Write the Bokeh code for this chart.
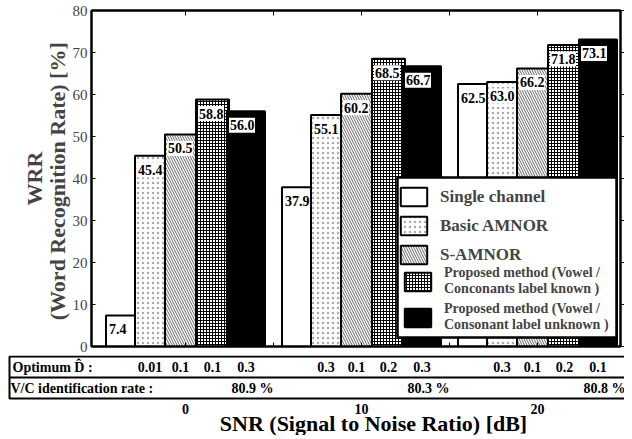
from bokeh.plotting import figure
from bokeh.models import (Range1d, LinearAxis, FixedTicker, Legend, LegendItem, LabelSet,
                          ColumnDataSource, CustomJSTickFormatter)
from bokeh.embed import file_html
from bokeh.resources import INLINE
from bokeh.core.properties import value

# ---------------- data ----------------
snr = [0, 10, 20]
series_labels = ["Single channel", "Basic AMNOR", "S-AMNOR",
                 "Proposed method (Vowel /\nConconants label known )",
                 "Proposed method (Vowel /\nConsonant label unknown )"]
single_channel = [7.4, 37.9, 62.5]
basic_amnor = [45.4, 55.1, 63.0]
s_amnor = [50.5, 60.2, 66.2]
proposed_known = [58.8, 68.5, 71.8]
proposed_unknown = [56.0, 66.7, 73.1]
y_ticks = [0, 10, 20, 30, 40, 50, 60, 70, 80]
x_ticks = [0, 5, 10, 15, 20]
x_tick_labels = ["0", "10", "20"]
d_basic = ["0.01", "0.3", "0.3"]
d_samnor = ["0.1", "0.1", "0.1"]
d_known = ["0.1", "0.2", "0.2"]
d_unknown = ["0.3", "0.3", "0.1"]
vc_rate = ["80.9 %", "80.3 %", "80.8 %"]
row_titles = ["Optimum D\u0302 :", "V/C identification rate :"]
x_title = "SNR (Signal to Noise Ratio) [dB]"
y_title = "WRR\n(Word Recognition Rate)  [%]"

# ---------------- layout ----------------
FONT = "Liberation Serif"
VFONT = value(FONT)
W = 624
H1 = 355
H2 = 435 - H1
ORIGIN_PX = 185          # canvas px of SNR = 0
PX_PER_DB = 17.6
FL, FR, FT, FB = 91, 620, 10, 346


def xd(px):
    return (px - ORIGIN_PX) / PX_PER_DB


Y_PX = (FB - FT) / 80.0


def yd(py):
    return (FB - py) / Y_PX


BAR_EDGES = [(-79.5, -50.5), (-50.5, -20.5), (-20.5, 10.5), (10.5, 43.5), (41.5, 79.5)]
STYLES = [
    dict(fill_color="white"),
    dict(fill_color="white", hatch_pattern="dot", hatch_scale=5, hatch_weight=0.4, hatch_color="#aaaaaa"),
    dict(fill_color="white", hatch_pattern="left_diagonal_line", hatch_scale=5, hatch_weight=0.6, hatch_color="black"),
    dict(fill_color="white", hatch_pattern="cross", hatch_scale=3, hatch_weight=1.0, hatch_color="black"),
    dict(fill_color="black"),
]

p = figure(width=W, height=H1, x_range=Range1d(xd(FL), xd(FR)), y_range=Range1d(0, 80),
           toolbar_location=None, output_backend="svg",
           min_border_left=FL, min_border_right=W - FR, min_border_top=FT, min_border_bottom=H1 - FB)
p.xgrid.visible = False
p.ygrid.visible = False
p.outline_line_color = "black"
p.outline_line_width = 2

series = [single_channel, basic_amnor, s_amnor, proposed_known, proposed_unknown]
renderers = []
sources = []
for vals, (l, r), st in zip(series, BAR_EDGES, STYLES):
    left = [s + l / PX_PER_DB for s in snr]
    src = ColumnDataSource(dict(left=left,
                                right=[s + r / PX_PER_DB for s in snr],
                                top=vals, label=["%.1f" % v for v in vals],
                                box_l=[x + 2 / PX_PER_DB for x in left],
                                box_r=[x + 28 / PX_PER_DB for x in left],
                                box_t=[v - 6.5 / Y_PX for v in vals],
                                box_b=[v - 21.5 / Y_PX for v in vals]))
    rr = p.quad(left="left", right="right", top="top", bottom=0, source=src,
                line_color="black", line_width=2, **st)
    renderers.append(rr)
    sources.append(src)

# white boxes behind the value labels
for src in sources:
    p.quad(left="box_l", right="box_r", top="box_t", bottom="box_b", source=src,
           fill_color="white", line_color=None)

for src in sources:
    p.add_layout(LabelSet(x="left", y="top", text="label", source=src, x_offset=3, y_offset=-14,
                          text_baseline="middle", text_align="left", text_font=VFONT,
                          text_font_style="bold", text_font_size="14px", text_color="black"))

# legend box (white panel with black frame)
p.quad(left=[xd(397)], right=[xd(616)], top=[yd(177)], bottom=[yd(337)],
       fill_color="white", line_color="black", line_width=2.5)

# axes
ya = p.yaxis[0]
ya.ticker = FixedTicker(ticks=y_ticks)
ya.major_tick_in = 4
ya.major_tick_out = 0
ya.minor_tick_line_color = None
ya.axis_line_width = 2
ya.major_label_text_font = FONT
ya.major_label_text_font_size = "15px"
ya.major_label_standoff = 4
ya.axis_label = y_title
ya.axis_label_text_font = FONT
ya.axis_label_text_font_style = "bold"
ya.axis_label_text_font_size = "22px"
ya.axis_label_text_line_height = 0.9
ya.axis_label_standoff = 0

blank = CustomJSTickFormatter(code="return ''")
xa = p.xaxis[0]
xa.ticker = FixedTicker(ticks=x_ticks)
xa.major_tick_in = 4
xa.major_tick_out = 0
xa.minor_tick_line_color = None
xa.axis_line_width = 2
xa.formatter = blank
xa.major_label_text_font_size = "0px"
xa.major_label_standoff = 0

top_axis = LinearAxis(ticker=FixedTicker(ticks=x_ticks), major_tick_in=5, major_tick_out=0,
                      minor_tick_line_color=None, axis_line_width=2, formatter=blank,
                      major_label_text_font_size="0px", major_label_standoff=0)
p.add_layout(top_axis, "above")
right_axis = LinearAxis(ticker=FixedTicker(ticks=y_ticks), major_tick_in=0, major_tick_out=4,
                        minor_tick_line_color=None, axis_line_width=2, formatter=blank,
                        major_label_text_font_size="0px", major_label_standoff=0)
p.add_layout(right_axis, "right")

# legends (transparent, drawn over the white panel)
legA = Legend(items=[LegendItem(label=series_labels[i], renderers=[renderers[i]]) for i in range(3)],
              location=(397 - FL, FB - 266), padding=8, spacing=6, glyph_height=23, glyph_width=33,
              label_standoff=10, margin=0, border_line_color=None, background_fill_alpha=0,
              label_text_font=FONT, label_text_font_style="bold", label_text_font_size="17px")
legB = Legend(items=[LegendItem(label=series_labels[i], renderers=[renderers[i]]) for i in range(3, 5)],
              location=(401 - FL, FB - 333), padding=4, spacing=4, glyph_height=23, glyph_width=33,
              label_standoff=10, margin=0, border_line_color=None, background_fill_alpha=0,
              label_text_font=FONT, label_text_font_style="bold", label_text_font_size="14px",
              label_text_line_height=0.85)
p.add_layout(legA, "center")
p.add_layout(legB, "center")

# ---------------- table + x labels ----------------
p2 = figure(width=W, height=H2, x_range=Range1d(xd(0), xd(W)), y_range=Range1d(0, H2),
            toolbar_location=None, output_backend="svg", min_border=0,
            x_axis_location=None, y_axis_location=None)
p2.xgrid.visible = False
p2.ygrid.visible = False
p2.outline_line_color = None


def y2(py):
    return H2 - (py - H1)


T_TOP, T_MID, T_BOT = y2(356), y2(377), y2(398)
p2.quad(left=[xd(9)], right=[xd(W + 20)], top=[T_TOP], bottom=[T_BOT], fill_color=None,
        line_color="black", line_width=2)
p2.segment(x0=[xd(9)], x1=[xd(W + 20)], y0=[T_MID], y1=[T_MID], line_color="black", line_width=2)

r1 = (T_TOP + T_MID) / 2
r2 = (T_MID + T_BOT) / 2
p2.text(x=[xd(12), xd(10)], y=[r1, r2], text=row_titles, text_baseline="middle", text_align="left",
        text_font=VFONT, text_font_style="bold", text_font_size="14px")

d_cols = [d_basic, d_samnor, d_known, d_unknown]
dx, dy, dt = [], [], []
for k, col in enumerate(d_cols, start=1):
    l, r = BAR_EDGES[k]
    for s, t in zip(snr, col):
        dx.append(s + (l + r) / 2 / PX_PER_DB)
        dy.append(r1)
        dt.append(t)
p2.text(x=dx, y=dy, text=dt, text_baseline="middle", text_align="center",
        text_font=VFONT, text_font_style="bold", text_font_size="14px")
p2.text(x=[s + 67 / PX_PER_DB for s in snr], y=[r2] * 3, text=vc_rate, text_baseline="middle",
        text_align="center", text_font=VFONT, text_font_style="bold", text_font_size="14px")

p2.text(x=snr, y=[y2(408)] * 3, text=x_tick_labels, text_baseline="middle", text_align="center",
        text_font=VFONT, text_font_style="bold", text_font_size="14px")
p2.text(x=[xd(373)], y=[y2(423)], text=[x_title], text_baseline="middle", text_align="center",
        text_font=VFONT, text_font_style="bold", text_font_size="22px")

open("out.html", "w").write(file_html([p, p2], INLINE))
